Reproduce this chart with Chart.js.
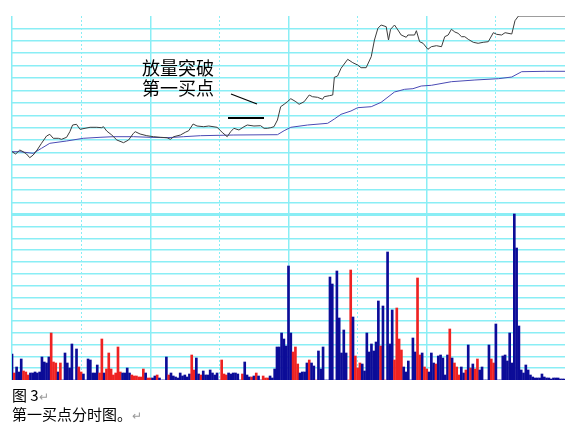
<!DOCTYPE html>
<html>
<head>
<meta charset="utf-8">
<script src="https://cdn.jsdelivr.net/npm/chart.js@4.4.0/dist/chart.umd.min.js"></script>
<style>
  body{margin:0;background:#fff;width:580px;height:429px;overflow:hidden;position:relative;}
  #wrap{position:absolute;left:0;top:0;width:580px;height:385px;}
  .cap{position:absolute;left:12px;font-family:"Noto Sans CJK SC",sans-serif;font-size:15px;color:#000;line-height:17px;}
  .ret{color:#999;font-size:12px;}
</style>
</head>
<body>
<div id="wrap"><canvas id="c"></canvas></div>
<div class="cap" style="top:386px">图 3<span class="ret">↵</span></div>
<div class="cap" style="top:405px">第一买点分时图。<span class="ret">↵</span></div>
<script>
// minute-by-minute volume (241 minutes), colour per bar: r = up, b = down
const volume = [
  26,7,13,8,21,9,8,5,7,7,8,7,8,23,18,17,23,47,18,17,8,17,0,27,17,12,36,0,31,13,
  8,6,0,21,20,7,7,15,7,41,7,11,27,11,5,7,33,8,7,7,12,7,5,4,4,3,3,11,7,2,
  2,2,4,5,2,0,0,23,5,7,4,3,2,7,4,5,3,6,25,10,22,6,5,9,5,5,10,7,5,7,
  0,20,6,5,7,6,7,7,6,0,6,18,5,3,3,4,7,4,0,4,2,2,4,2,11,33,33,47,41,34,
  114,47,28,33,16,7,8,8,17,20,17,14,0,29,11,33,0,0,103,96,0,109,62,27,50,27,0,110,63,24,
  12,17,16,9,47,28,36,29,38,79,34,74,0,128,36,70,20,72,41,30,13,8,19,0,42,28,102,25,27,13,
  11,8,27,17,16,24,25,22,5,25,51,22,17,13,5,13,7,10,35,12,16,11,21,10,13,0,0,35,21,17,
  56,0,0,24,25,19,47,17,166,132,54,10,7,15,10,5,3,2,2,2,6,3,2,2,1,2,2,2,1,1,1
];
const colors = (
  "brbbbrrrbbbbbbbbbrrrbrbbbbbbbrrbbbbbbbrrbrrrrrrrbbbbrrrrrrbr" +
  "rbbrbbbbrbbbbbbbbbrrbbrbbbbbbbbrrrbbbbbbrbbbrbrbbrrrbbbbbbbb" +
  "bbrrrbbbbrbbrbbbbbbbbbbbbbrrbrrrbbbbbbbbrbrbbbrrrrbbbbbbrrbr" +
  "rbbbrbbbbbrbrrrbbrbrbrrbbbbbrrbbbbbbbbbbbbbbbbbbbbbbbbbbbbbb" + "b"
).split("");
// price line: [minute, level]
const priceMin = [0,1.6,3.4,4.8,6.3,7.7,9.2,10.9,12.8,15,16.4,17.9,20.1,21.5,23.7,25.1,26.3,28,29.5,31.7,33.9,36.8,38.9,39.7,41.1,43.3,45.5,48.4,50.6,52.7,53.5,55.6,58.5,61.4,64.4,67.3,68.7,70.2,73.1,75.2,76.7,78.6,80.3,83.2,85.4,89,91.2,93.4,94.9,96.3,98.5,100.7,102.1,105,107.9,109.4,110.8,112.3,113.7,115.2,116.6,118.1,119.5,121,
  123.2,124.6,126.8,129,130.4,132.6,134.8,135.5,137.7,139.2,139.9,141.3,142.8,145.7,147.9,150,151.5,153.7,155.9,157.3,158.8,160.2,162.4,163.4,164.3,166,167.5,168.9,171.1,171.8,174.7,175.5,176.9,178.4,180.5,182,184.2,186.4,187.8,189.3,190.7,192.2,193.6,195.1,196.5,198,200.2,202.3,204.5,206.7,208.9,210.3,212.5,214,216.9,218.3,219.8,240];
const priceVal = [63,60.7,64.7,63,60.7,57,59.7,64.7,71.4,78.7,80.4,76.4,76.4,75.4,77.4,83,89.7,90.4,85.4,86.4,87.4,87.4,87,88,83.7,79.7,74.7,72,74.7,81.4,83,80.7,79,78,77.4,77,75.4,78,79.7,82.4,84,90.7,88.7,88,88.7,87.4,82.4,78,83,86.4,84.7,88,89.7,88.7,89,86.4,86.4,87,88,94.7,108,110.4,113,116,
  113,110.4,113,119.7,118,117.4,115.4,118,119,119.7,137.4,138.7,146.4,155.4,152,149.7,147,147,158,174.7,186.4,189.7,188,174.7,185.4,189.7,184.7,179.7,177.4,179.7,179.7,184,173,171.4,165.4,168,169,168,178,179.7,185.4,182.7,181.4,178,178,175.4,172.4,171.4,172.4,173,182,180.4,179.7,182,180.7,194,198.7,198.7];
// average price line
const avgMin = [0,3.4,9.2,12.8,16.4,23.7,30.9,38.2,44,52.7,60,67.3,74.5,81.8,96.3,115.2,118.1,121,128.3,137,139.9,142.8,147.1,150,155.9,160.2,166,170.4,174,177.6,182,190.7,200.9,211.1,216.9,221.2,231.4,240];
const avgVal = [63,63,61.4,66.4,71.4,73.7,76.4,77.4,78,78,77.4,77,78,79,79.7,80,84,87.4,89.7,91.4,95.7,100.4,103.7,107,108,112.4,122.7,125.4,126,128.7,129.4,133,134.7,136,137.7,143,143.4,143.4];

const CYAN = '#8aeef5';
const noteLines = ['放量突破', '第一买点'];

const notePlugin = {
  id: 'note',
  afterDatasetsDraw(chart){
    const c = chart.ctx;
    c.save();
    c.fillStyle = '#000';
    c.font = '18px "Noto Sans CJK SC"';
    c.textBaseline = 'middle';
    c.fillText(noteLines[0], 142, 68);
    c.fillText(noteLines[1], 142, 88);
    c.strokeStyle = '#000';
    c.lineWidth = 1.2;
    c.beginPath(); c.moveTo(231, 94); c.lineTo(257, 104); c.stroke();
    c.lineWidth = 2;
    c.beginPath(); c.moveTo(228, 118); c.lineTo(264, 118); c.stroke();
    c.restore();
  }
};

new Chart(document.getElementById('c'), {
  data: {
    datasets: [
      { type:'line', data: priceMin.map((m,i)=>({x:m,y:priceVal[i]})), yAxisID:'yp',
        borderColor:'#3c3c3c', borderWidth:1, pointRadius:0, tension:0 },
      { type:'line', data: avgMin.map((m,i)=>({x:m,y:avgVal[i]})), yAxisID:'yp',
        borderColor:'#4a4ab4', borderWidth:1, pointRadius:0, tension:0 },
      { type:'bar', data: volume.map((v,i)=>({x:i,y:v})), yAxisID:'yv',
        backgroundColor: colors.map(k => k==='r' ? '#ee2222' : '#0c0c98'),
        barThickness:2, borderWidth:0 }
    ]
  },
  options: {
    responsive:true, maintainAspectRatio:false, animation:false,
    layout:{padding:{left:12, top:16, right:15, bottom:5}},
    plugins:{legend:{display:false}, tooltip:{enabled:false}},
    scales:{
      x:{ type:'linear', min:0, max:240, offset:false,
          afterBuildTicks(s){ s.ticks = [0,60,120,180].map(v=>({value:v})); },
          grid:{ color:CYAN, lineWidth:1.5, drawTicks:false, offset:false }, border:{display:false},
          ticks:{display:false} },
      x2:{ type:'linear', min:0, max:240, offset:false, position:'bottom',
          afterBuildTicks(s){ s.ticks = [30,90,150,210].map(v=>({value:v})); },
          grid:{ color:CYAN, lineWidth:1, drawTicks:false, offset:false }, border:{display:false, dash:[2,2]},
          ticks:{display:false} },
      yp:{ type:'linear', min:-165.3, max:198.7, position:'left',
          afterBuildTicks(s){ const t=[]; for(let k=0;k<16;k++) t.push({value:k*12.42}); s.ticks=t; },
          grid:{ color:CYAN, lineWidth:(ctx)=> ctx.tick && ctx.tick.value===0 ? 3 : 1.5, drawTicks:false },
          border:{display:false}, ticks:{display:false} },
      yv:{ type:'linear', min:0, max:364, position:'left',
          afterBuildTicks(s){ const t=[]; for(let k=1;k<14;k++) t.push({value:k*11.81}); s.ticks=t; },
          grid:{ color:CYAN, lineWidth:1.5, drawTicks:false },
          border:{display:false}, ticks:{display:false} }
    }
  },
  plugins:[notePlugin]
});
</script>
</body>
</html>
